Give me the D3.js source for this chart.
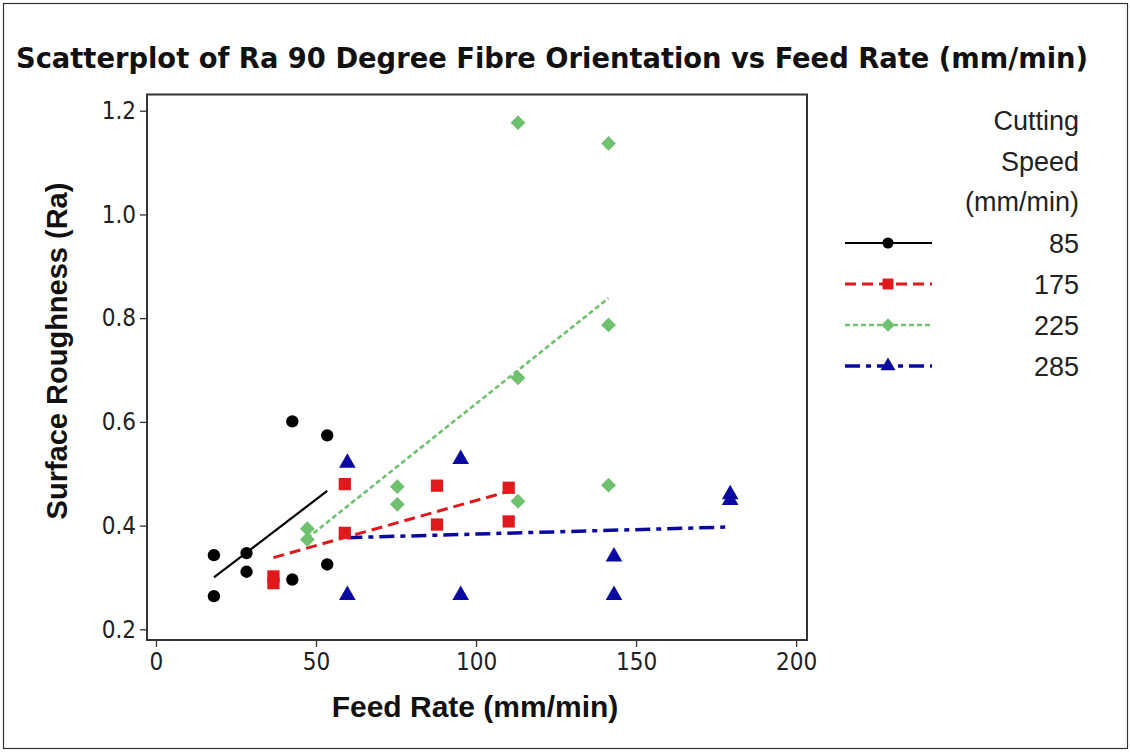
<!DOCTYPE html>
<html>
<head>
<meta charset="utf-8">
<script src="https://cdn.jsdelivr.net/npm/d3@7/dist/d3.min.js"></script>
<style>
  body { margin: 0; background: #fff; }
  svg { display: block; }
</style>
</head>
<body>
<div id="chart"></div>
<script>
// values
const speeds = ["85", "175", "225", "285"];
const feed85 = [18.1, 18.1, 28.3, 28.3, 42.6, 42.6, 53.5, 53.5];
const ra85 = [0.343, 0.264, 0.347, 0.311, 0.601, 0.296, 0.574, 0.325];
const feed175 = [36.7, 36.7, 59.0, 59.0, 87.8, 87.8, 110.2, 110.2];
const ra175 = [0.302, 0.289, 0.480, 0.386, 0.477, 0.402, 0.473, 0.408];
const feed225 = [47.3, 47.3, 75.4, 75.4, 113.1, 113.1, 113.1, 141.4, 141.4, 141.4];
const ra225 = [0.394, 0.373, 0.475, 0.441, 1.177, 0.685, 0.447, 1.137, 0.787, 0.478];
const feed285 = [59.8, 59.8, 95.2, 95.2, 143.1, 143.1, 179.4, 179.4];
const ra285 = [0.521, 0.266, 0.528, 0.266, 0.340, 0.266, 0.460, 0.449];
const xTicks = [0, 50, 100, 150, 200];
const yTicks = [0.2, 0.4, 0.6, 0.8, 1.0, 1.2];

const width = 1130, height = 753;
const plot = {left: 147, right: 807, top: 94.5, bottom: 640};

// minitab style diamond = square turned 45 degrees
const symbolDiamondSq = {
  draw(context, size) {
    const r = Math.sqrt(size) / Math.SQRT2;
    context.moveTo(0, -r);
    context.lineTo(r, 0);
    context.lineTo(0, r);
    context.lineTo(-r, 0);
    context.closePath();
  }
};

const series = [
  {name: speeds[0], xs: feed85, ys: ra85, color: "#000000", symbol: d3.symbolCircle, size: 120, dash: null, lw: 2.2},
  {name: speeds[1], xs: feed175, ys: ra175, color: "#e0191c", symbol: d3.symbolSquare, size: 150, dash: "11,6", lw: 3},
  {name: speeds[2], xs: feed225, ys: ra225, color: "#6fc06f", symbol: symbolDiamondSq, size: 110, dash: "5,3", lw: 2.6},
  {name: speeds[3], xs: feed285, ys: ra285, color: "#0a0aa0", symbol: d3.symbolTriangle, size: 120, dash: "15,6,5,6", lw: 3.5}
];

let x = d3.scaleLinear().domain([-2.8, 203.4]).range([plot.left, plot.right]);
let y = d3.scaleLinear().domain([0.1794, 1.2313]).range([plot.bottom, plot.top]);

let svg = d3.select("#chart").append("svg")
  .attr("width", width)
  .attr("height", height);

svg.append("rect")
  .attr("width", width).attr("height", height)
  .attr("fill", "#fff");

// outer border
svg.append("rect")
  .attr("x", 3.5).attr("y", 3.5)
  .attr("width", width - 6).attr("height", height - 8)
  .attr("fill", "none")
  .attr("stroke", "#333")
  .attr("stroke-width", 1.2);

svg.append("text")
  .attr("x", 552).attr("y", 68)
  .attr("text-anchor", "middle")
  .attr("font-family", "'Liberation Sans Narrow', 'DejaVu Sans Condensed', 'DejaVu Sans', sans-serif")
  .attr("font-weight", "bold")
  .attr("font-size", 28)
  .attr("textLength", 1072)
  .attr("lengthAdjust", "spacingAndGlyphs")
  .attr("fill", "#111")
  .text("Scatterplot of Ra 90 Degree Fibre Orientation vs Feed Rate (mm/min)");

// axes
let xAxis = d3.axisBottom(x).tickValues(xTicks).tickSize(7).tickPadding(6);
let yAxis = d3.axisLeft(y).tickValues(yTicks).tickSize(7).tickPadding(4)
  .tickFormat(d3.format(".1f"));

let gx = svg.append("g")
  .attr("transform", `translate(0,${plot.bottom})`)
  .call(xAxis);
let gy = svg.append("g")
  .attr("transform", `translate(${plot.left},0)`)
  .call(yAxis);

[gx, gy].forEach(g => {
  g.select(".domain").remove();
  g.selectAll(".tick line").attr("stroke", "#333").attr("stroke-width", 1.3);
  g.selectAll(".tick text")
    .attr("font-family", "'Liberation Sans Narrow', 'DejaVu Sans Condensed', 'DejaVu Sans', sans-serif")
    .attr("font-size", 24)
    .attr("fill", "#222");
});

// plot frame
svg.append("rect")
  .attr("x", plot.left).attr("y", plot.top)
  .attr("width", plot.right - plot.left)
  .attr("height", plot.bottom - plot.top)
  .attr("fill", "none")
  .attr("stroke", "#333")
  .attr("stroke-width", 2);

svg.append("text")
  .attr("x", 475).attr("y", 717)
  .attr("text-anchor", "middle")
  .attr("font-family", "'Liberation Sans', Arial, sans-serif")
  .attr("font-weight", "bold")
  .attr("font-size", 30)
  .attr("fill", "#111")
  .text("Feed Rate (mm/min)");

svg.append("text")
  .attr("transform", "translate(67,351) rotate(-90)")
  .attr("text-anchor", "middle")
  .attr("font-family", "'Liberation Sans', Arial, sans-serif")
  .attr("font-weight", "bold")
  .attr("font-size", 29)
  .attr("fill", "#111")
  .text("Surface Roughness (Ra)");

// least squares fit per series
function fitLine(xs, ys) {
  let mx = d3.mean(xs), my = d3.mean(ys);
  let sxy = d3.sum(xs, (v, i) => (v - mx) * (ys[i] - my));
  let sxx = d3.sum(xs, v => (v - mx) * (v - mx));
  let b = sxy / sxx, a = my - b * mx;
  let x0 = d3.min(xs), x1 = d3.max(xs);
  return [[x0, a + b * x0], [x1, a + b * x1]];
}

let lineGen = d3.line().x(d => x(d[0])).y(d => y(d[1]));

series.forEach(s => {
  svg.append("path")
    .datum(fitLine(s.xs, s.ys))
    .attr("d", lineGen)
    .attr("fill", "none")
    .attr("stroke", s.color)
    .attr("stroke-width", s.lw)
    .attr("stroke-dasharray", s.dash);
});

series.forEach(s => {
  svg.append("g")
    .selectAll("path")
    .data(s.xs.map((v, i) => [v, s.ys[i]]))
    .enter()
    .append("path")
    .attr("transform", d => `translate(${x(d[0])},${y(d[1])})`)
    .attr("d", d3.symbol().type(s.symbol).size(s.size))
    .attr("fill", s.color);
});

// legend
let legendFont = "'Liberation Sans', Arial, sans-serif";
["Cutting", "Speed", "(mm/min)"].forEach((t, i) => {
  svg.append("text")
    .attr("x", 1079).attr("y", 130 + i * 40.5)
    .attr("text-anchor", "end")
    .attr("font-family", legendFont)
    .attr("font-size", 27)
    .attr("fill", "#222")
    .text(t);
});

let legendY = d3.scalePoint().domain(speeds).range([243, 366]);

series.forEach(s => {
  let ly = legendY(s.name);
  svg.append("line")
    .attr("x1", 845).attr("x2", 932)
    .attr("y1", ly).attr("y2", ly)
    .attr("stroke", s.color)
    .attr("stroke-width", s.lw)
    .attr("stroke-dasharray", s.dash);
  svg.append("path")
    .attr("transform", `translate(888,${ly})`)
    .attr("d", d3.symbol().type(s.symbol).size(s.size * 0.8))
    .attr("fill", s.color);
  svg.append("text")
    .attr("x", 1079).attr("y", ly + 10)
    .attr("text-anchor", "end")
    .attr("font-family", legendFont)
    .attr("font-size", 27)
    .attr("fill", "#222")
    .text(s.name);
});
</script>
</body>
</html>
